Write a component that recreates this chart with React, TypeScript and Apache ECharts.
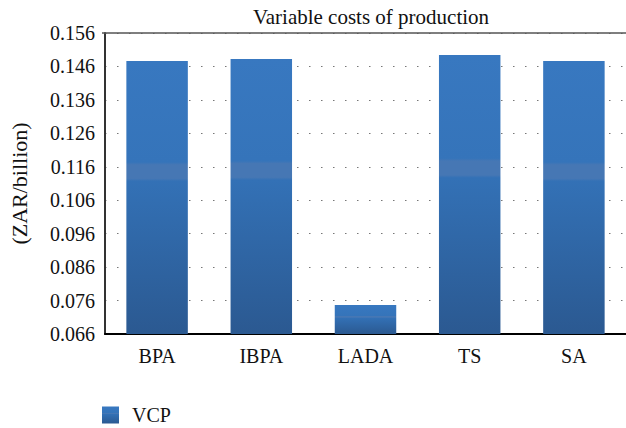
import React, { useEffect, useRef } from "react";
import * as echarts from "echarts";

const categories = ["BPA", "IBPA", "LADA", "TS", "SA"];
const vcpValues = [0.1476, 0.1482, 0.0747, 0.1494, 0.1476];
const yTickLabels = ["0.066", "0.076", "0.086", "0.096", "0.106", "0.116", "0.126", "0.136", "0.146", "0.156"];
const seriesName = "VCP";
const titleText = "Variable costs of production";
const yAxisName = "(ZAR/billion)";

const FONT = "Liberation Serif";

export default function App() {
  const ref = useRef<HTMLDivElement>(null);
  useEffect(() => {
    if (!ref.current) return;
    const chart = echarts.init(ref.current, undefined, { renderer: "svg" });
    const barColor = new echarts.graphic.LinearGradient(0, 0, 0, 1, [
      { offset: 0, color: "#3878c0" },
      { offset: 0.37, color: "#3574ba" },
      { offset: 0.38, color: "#4677b4" },
      { offset: 0.43, color: "#4677b4" },
      { offset: 0.44, color: "#3371b6" },
      { offset: 1, color: "#2b5991" },
    ]);
    const step = 0.01;
    chart.setOption({
      animation: false,
      textStyle: { fontFamily: FONT },
      title: {
        text: titleText,
        left: 366,
        textAlign: "center",
        top: 1,
        textStyle: { fontFamily: FONT, fontSize: 21, fontWeight: "normal", color: "#111" },
      },
      grid: { left: 102, right: 0, top: 33, bottom: 94 },
      legend: {
        left: 97,
        bottom: -2,
        itemWidth: 17,
        itemHeight: 17,
        icon: "rect",
        itemGap: 12,
        textStyle: { fontFamily: FONT, fontSize: 20, color: "#111", padding: [0, 0, 0, 8] },
        data: [seriesName],
      },
      xAxis: {
        type: "category",
        data: categories,
        axisTick: { show: false },
        axisLine: { lineStyle: { color: "#000", width: 2 } },
        axisLabel: { fontFamily: FONT, fontSize: 20, color: "#111", margin: 12 },
      },
      yAxis: [
        {
          type: "value",
          min: 0.066,
          max: 0.156,
          position: "left",
          axisLabel: { show: false },
          splitLine: { show: false },
          axisTick: { show: false },
          axisLine: { show: true, lineStyle: { color: "#333", width: 2 } },
          name: yAxisName,
          nameLocation: "middle",
          nameGap: 75,
          nameTextStyle: { fontFamily: FONT, fontSize: 22, color: "#111" },
        },
        {
          type: "value",
          min: 0,
          max: step * (yTickLabels.length - 1),
          interval: step,
          position: "left",
          axisLine: { show: false },
          axisTick: { show: false },
          axisLabel: {
            fontFamily: FONT,
            fontSize: 20,
            color: "#111",
            margin: 10,
            formatter: (v: number) => yTickLabels[Math.round(v / step)] ?? "",
          },
          splitLine: {
            show: true,
            lineStyle: { color: "#777", width: 1.2, type: [1.5, 10.5] },
          },
        },
      ],
      graphic: [
        {
          type: "line",
          shape: { x1: 102, y1: 33, x2: 626, y2: 33 },
          style: { stroke: "#555", lineWidth: 1.5 },
          z: 10,
        },
      ],
      series: [
        {
          name: seriesName,
          type: "bar",
          yAxisIndex: 0,
          data: vcpValues,
          barWidth: "59%",
          itemStyle: { color: barColor },
        },
      ],
    });
    return () => chart.dispose();
  }, []);
  return (
    <div
      ref={ref}
      style={{ position: "fixed", left: 0, top: 0, width: 626, height: 428, background: "#fff" }}
    />
  );
}
